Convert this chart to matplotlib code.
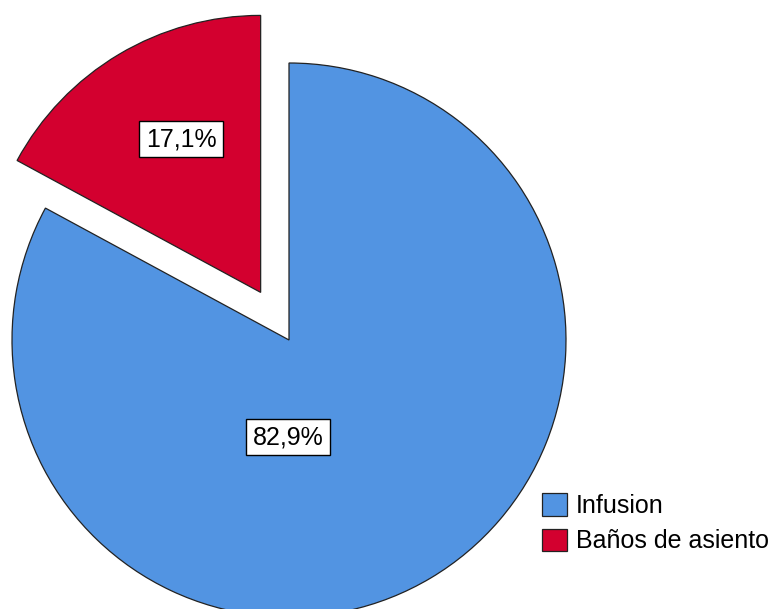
import matplotlib.pyplot as plt

categorias = ["Infusion", "Baños de asiento"]
porcentajes = [82.9, 17.1]
etiquetas = ["82,9%", "17,1%"]
colores = ["#5294E2", "#D3002F"]

plt.rcParams['font.family'] = ['Liberation Sans', 'DejaVu Sans']

fig = plt.figure(figsize=(7.8, 6.09), dpi=100)
ax = fig.add_axes([0, 0, 1, 1])

radio = 277
# pie in pixel units, center (289, 340 from top)
wedges, _ = ax.pie(porcentajes, colors=colores, startangle=90, counterclock=False,
                   center=(289, 609 - 340), radius=radio, explode=[0, 0.2 * radio],
                   wedgeprops=dict(edgecolor='#222222', linewidth=0.9),
                   frame=True)
ax.set_xlim(0, 780)
ax.set_ylim(0, 609)
ax.set_aspect('equal')
ax.axis('off')

caja = dict(boxstyle='square,pad=0.25', facecolor='white', edgecolor='black', linewidth=1)
ax.text(288, 609 - 437, etiquetas[0], fontsize=18, ha='center', va='center', bbox=caja)
ax.text(181, 609 - 139, etiquetas[1], fontsize=18, ha='center', va='center', bbox=caja)

ax.legend(wedges, categorias, loc='upper left', bbox_to_anchor=(0.695, 0.19),
          frameon=False, fontsize=18, handlelength=1.0, handleheight=1.0,
          handletextpad=0.35, labelspacing=0.42, borderpad=0, borderaxespad=0)

plt.savefig("out.png", dpi=100)
plt.close('all')
